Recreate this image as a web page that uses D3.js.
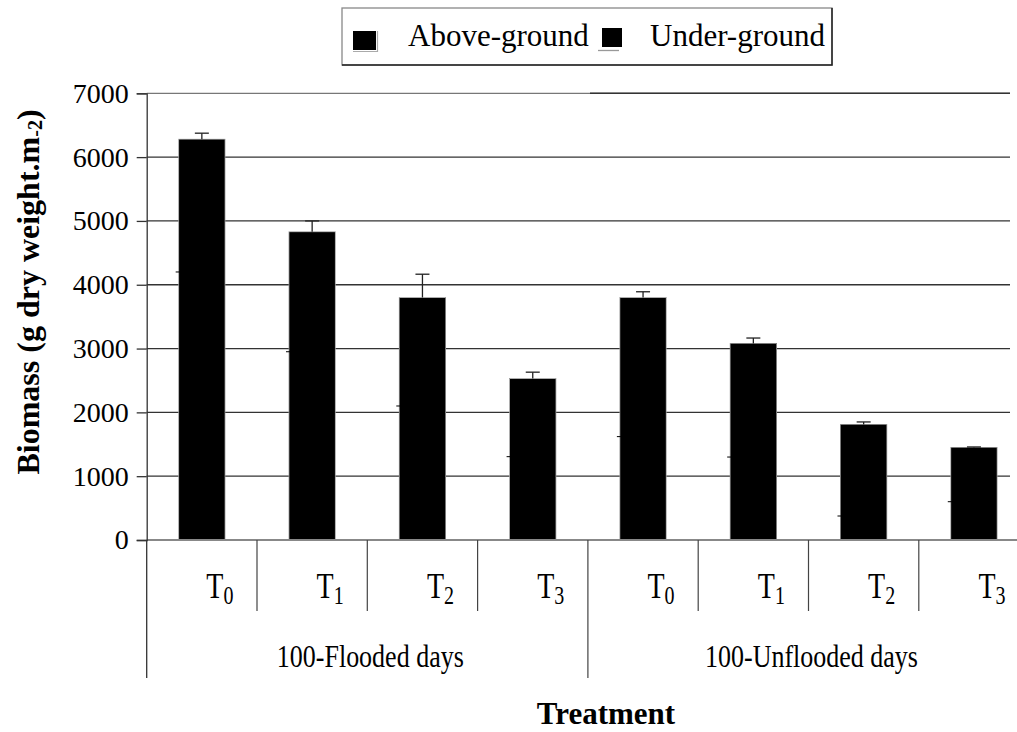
<!DOCTYPE html>
<html>
<head>
<meta charset="utf-8">
<script src="https://cdn.jsdelivr.net/npm/d3@7"></script>
<style>
  body { margin: 0; background: #fff; }
  svg, svg text { font-family: "Liberation Serif", "Times New Roman", serif !important; }
</style>
</head>
<body>
<div id="chart"></div>
<script>
const width = 1017;
const height = 732;

// data
const groups = ["100-Flooded days", "100-Unflooded days"];
const treatments = ["T0", "T1", "T2", "T3"];
const aboveGround = [4200, 2950, 2100, 1306, 1620, 1300, 376, 600];
const underGround = [2080, 1880, 1700, 1224, 2180, 1780, 1434, 850];
const errorTop = [95, 170, 365, 100, 90, 85, 40, 8];
const yTicks = [0, 1000, 2000, 3000, 4000, 5000, 6000, 7000];

const categories = [];
groups.forEach(function (g, gi) {
    treatments.forEach(function (t) {
        categories.push({ group: g, gi: gi, t: t, key: g + "-" + t });
    });
});

const left = 146.7;
const step = 110.3;

const x = d3.scaleBand()
    .domain(categories.map(d => d.key))
    .range([left, left + step * categories.length])
    .paddingInner(0.58)
    .paddingOuter(0.29);

const y = d3.scaleLinear()
    .domain([0, 7000])
    .range([540, 93.3]);

const svg = d3.select("#chart")
    .append("svg")
    .attr("width", width)
    .attr("height", height);

// gridlines
svg.append("g")
    .selectAll("line")
    .data(yTicks.slice(1))
    .join("line")
    .attr("x1", left)
    .attr("x2", 1010)
    .attr("y1", d => y(d))
    .attr("y2", d => y(d))
    .attr("stroke", d => d === 7000 ? "#777" : "#333")
    .attr("stroke-width", 1.3);

svg.append("line")
    .attr("x1", 590).attr("x2", 1010)
    .attr("y1", y(7000)).attr("y2", y(7000))
    .attr("stroke", "#333").attr("stroke-width", 1.5);

// stacked bars (both series black)
const stackData = categories.map((d, i) => ({ key: d.key, above: aboveGround[i], under: underGround[i], err: errorTop[i] }));
const stack = d3.stack().keys(["above", "under"])(stackData);

svg.append("g")
    .attr("shape-rendering", "crispEdges")
    .selectAll("g")
    .data(stack)
    .join("g")
    .selectAll("rect")
    .data(s => s)
    .join("rect")
    .attr("x", d => x(d.data.key))
    .attr("y", d => y(d[1]))
    .attr("width", x.bandwidth())
    .attr("height", d => y(d[0]) - y(d[1]) + 1)
    .attr("fill", "#000");

// thin grey outline round each whole bar
svg.append("g")
    .selectAll("rect")
    .data(stack[1])
    .join("rect")
    .attr("x", d => x(d.data.key))
    .attr("y", d => y(d[1]))
    .attr("width", x.bandwidth())
    .attr("height", d => y(0) - y(d[1]))
    .attr("fill", "none")
    .attr("stroke", "#999")
    .attr("stroke-width", 0.8);

// small marks where the lower series ends
svg.append("g")
    .selectAll("line")
    .data(stack[0])
    .join("line")
    .attr("x1", d => x(d.data.key) - 3)
    .attr("x2", d => x(d.data.key) + 1)
    .attr("y1", d => y(d[1]))
    .attr("y2", d => y(d[1]))
    .attr("stroke", "#000")
    .attr("stroke-width", 1);

// error bars on top
const err = svg.append("g")
    .selectAll("g")
    .data(stack[1])
    .join("g")
    .attr("stroke", "#222")
    .attr("stroke-width", 1.3);

err.append("line")
    .attr("x1", d => x(d.data.key) + x.bandwidth() / 2)
    .attr("x2", d => x(d.data.key) + x.bandwidth() / 2)
    .attr("y1", d => y(d[1]))
    .attr("y2", d => y(d[1] + d.data.err));

err.append("line")
    .attr("x1", d => x(d.data.key) + x.bandwidth() / 2 - 7)
    .attr("x2", d => x(d.data.key) + x.bandwidth() / 2 + 7)
    .attr("y1", d => y(d[1] + d.data.err))
    .attr("y2", d => y(d[1] + d.data.err));

// x axis baseline
svg.append("line")
    .attr("x1", left).attr("x2", width)
    .attr("y1", y(0)).attr("y2", y(0))
    .attr("stroke", "#888").attr("stroke-width", 2);

// y axis
const yAxis = svg.append("g")
    .attr("transform", "translate(" + left + ",0)")
    .call(d3.axisLeft(y).tickValues(yTicks).tickSize(10).tickPadding(8).tickFormat(d3.format("d")));

yAxis.select(".domain").attr("stroke", "#333").attr("stroke-width", 1.3);
yAxis.selectAll(".tick line").attr("stroke", "#333").attr("stroke-width", 1.3);
yAxis.selectAll(".tick text")
    .attr("font-size", 28)
    .attr("fill", "#000");

// category separators
const cats = categories.length;
d3.range(1, cats).forEach(function (i) {
    const outer = i % treatments.length === 0;
    svg.append("line")
        .attr("x1", left + i * x.step())
        .attr("x2", left + i * x.step())
        .attr("y1", y(0))
        .attr("y2", outer ? 678 : 611)
        .attr("stroke", "#444")
        .attr("stroke-width", 1.2);
});

svg.append("line")
    .attr("x1", left).attr("x2", left)
    .attr("y1", y(0)).attr("y2", 678)
    .attr("stroke", "#333").attr("stroke-width", 1.3);

// treatment labels
const tLabels = svg.append("g")
    .selectAll("text")
    .data(categories)
    .join("text")
    .attr("transform", d => "translate(" + (x(d.key) + x.bandwidth() / 2 + 18) + ",598) scale(1,1.3)")
    .attr("text-anchor", "middle")
    .attr("font-size", 28)
    .attr("fill", "#000");

tLabels.append("tspan").text(d => d.t.charAt(0));
tLabels.append("tspan")
    .attr("font-size", 20)
    .attr("dy", 4.7)
    .text(d => d.t.slice(1));

// group labels
svg.append("g")
    .selectAll("text")
    .data(groups)
    .join("text")
    .attr("transform", (d, i) => "translate(" + (left + (i + 0.5) * treatments.length * x.step() + 3) + ",667) scale(1,1.2)")
    .attr("text-anchor", "middle")
    .attr("font-size", 26)
    .attr("fill", "#000")
    .text(d => d);

// axis titles
svg.append("text")
    .attr("x", 606)
    .attr("y", 724)
    .attr("text-anchor", "middle")
    .attr("font-size", 31)
    .attr("font-weight", "bold")
    .text("Treatment");

const yTitle = svg.append("text")
    .attr("transform", "translate(39,292) rotate(-90)")
    .attr("text-anchor", "middle")
    .attr("font-size", 32)
    .attr("font-weight", "bold");
yTitle.append("tspan").text("Biomass (g dry weight.m");
yTitle.append("tspan").attr("font-size", 20).attr("dy", 3).text("-2");
yTitle.append("tspan").attr("dy", -3).text(")");

// legend
const legend = svg.append("g");
legend.append("rect")
    .attr("x", 342).attr("y", 8)
    .attr("width", 490).attr("height", 57)
    .attr("fill", "#fff")
    .attr("stroke", "#888").attr("stroke-width", 1.3);
legend.append("path")
    .attr("d", "M342,65H832V8")
    .attr("fill", "none")
    .attr("stroke", "#222").attr("stroke-width", 1.5);

legend.append("rect")
    .attr("x", 353).attr("y", 31).attr("width", 23).attr("height", 19)
    .attr("fill", "#000");
legend.append("path")
    .attr("d", "M353,51.5H377.5V31")
    .attr("fill", "none").attr("stroke", "#aaa").attr("stroke-width", 1.2);
legend.append("text")
    .attr("x", 408).attr("y", 46)
    .attr("font-size", 31)
    .text("Above-ground");

legend.append("rect")
    .attr("x", 602).attr("y", 28).attr("width", 20).attr("height", 19)
    .attr("fill", "#000");
legend.append("line")
    .attr("x1", 598).attr("x2", 619).attr("y1", 50.5).attr("y2", 50.5)
    .attr("stroke", "#999").attr("stroke-width", 1.3);
legend.append("text")
    .attr("x", 650).attr("y", 46)
    .attr("font-size", 31)
    .text("Under-ground");
</script>
</body>
</html>
